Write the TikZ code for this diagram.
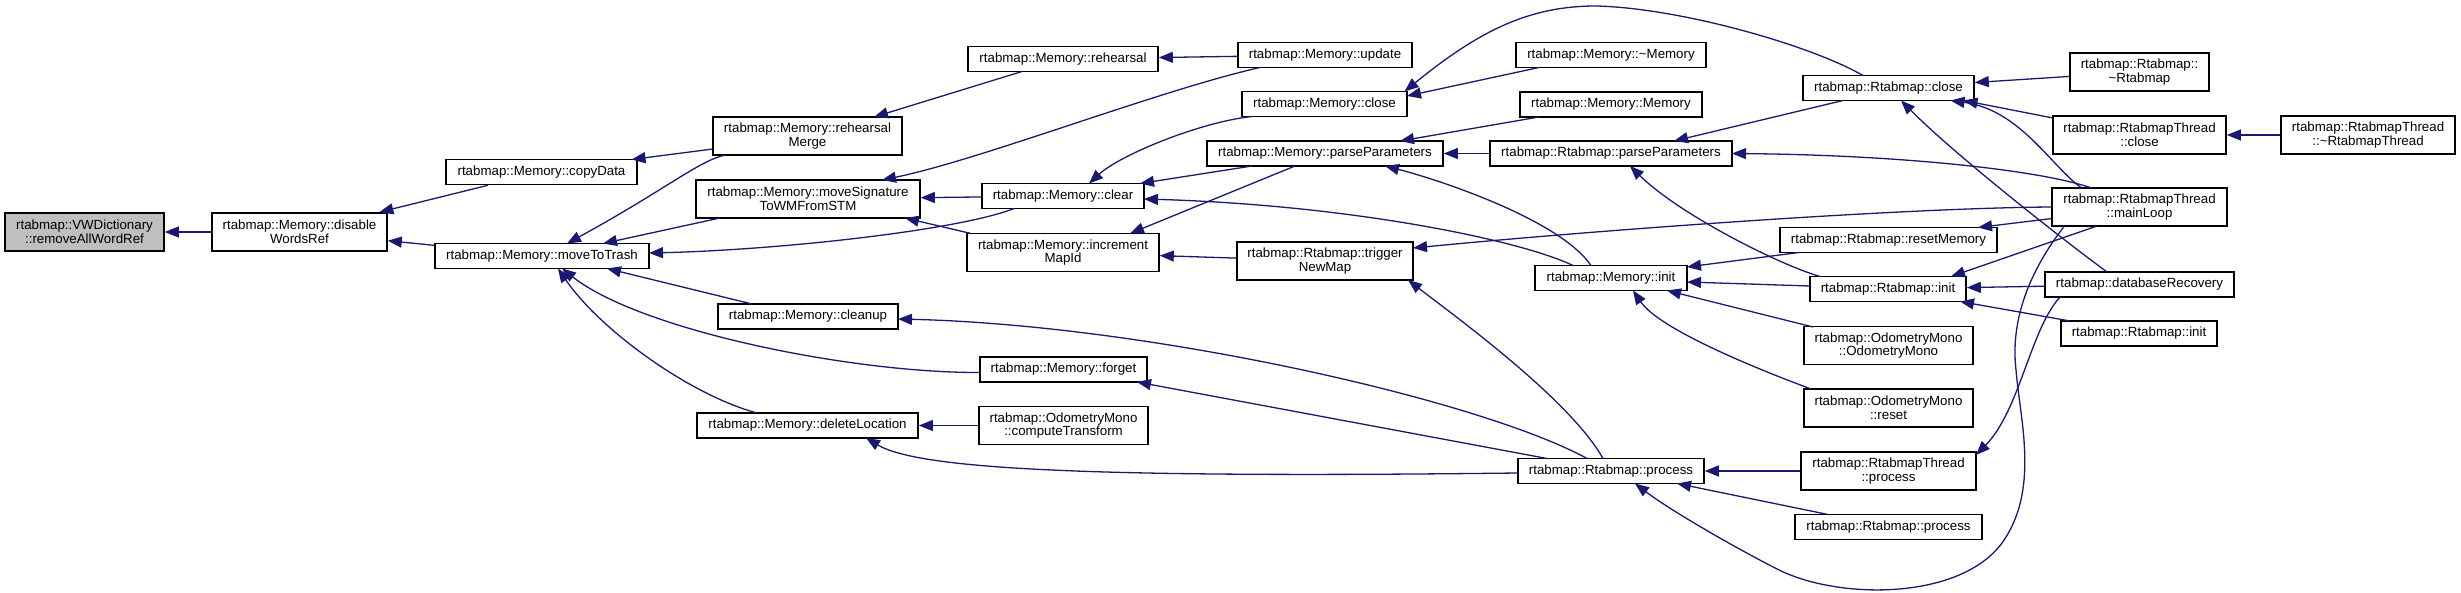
\documentclass[tikz,border=0pt]{standalone}
\usepackage{fontspec}
\setmainfont{Liberation Sans}
\usetikzlibrary{calc}
\usetikzlibrary{arrows.meta}
\definecolor{edgeblue}{RGB}{25,25,112}
\definecolor{nodegrey}{RGB}{191,191,191}
\tikzset{
    fn/.style={
        draw=black,
        line width=1.6pt,
        fill=white,
        inner sep=1pt,
        align=center,
        font=\fontsize{13.3}{13.6}\selectfont,
        minimum height=25pt
    },
    % boxes with two lines of text
    fntwo/.style={fn, minimum height=38pt},
    callarrow/.style={
        line width=1.3pt,
        edgeblue,
        ->,
        >={Triangle[length=14pt, width=11pt]}
    }
}
\begin{document}
\begin{tikzpicture}[x=1pt,y=-1pt]
    \useasboundingbox (0,0) rectangle (2461,593);
    % column 0 to 2
    \node[fntwo, fill=nodegrey, minimum width=159pt] (vwd) at (84.5,232) {rtabmap::VWDictionary\\::removeAllWordRef};
    \node[fntwo, minimum width=175pt] (dwr) at (299.5,232) {rtabmap::Memory::disable\\WordsRef};
    \node[fn, minimum width=191pt] (cpd) at (541.5,172) {rtabmap::Memory::copyData};
    \node[fn, minimum width=214pt] (mtt) at (542,256) {rtabmap::Memory::moveToTrash};
    % column 3
    \node[fntwo, minimum width=189pt] (rhm) at (807.5,136) {rtabmap::Memory::rehearsal\\Merge};
    \node[fntwo, minimum width=224pt] (msw) at (808,199) {rtabmap::Memory::moveSignature\\ToWMFromSTM};
    \node[fn, minimum width=180pt] (cln) at (808,316.5) {rtabmap::Memory::cleanup};
    \node[fn, minimum width=221pt] (dlc) at (807.5,425.5) {rtabmap::Memory::deleteLocation};
    % column 4
    \node[fn, minimum width=190pt] (reh) at (1063,59) {rtabmap::Memory::rehearsal};
    \node[fn, minimum width=162pt] (clr) at (1063,196) {rtabmap::Memory::clear};
    \node[fntwo, minimum width=192pt] (imi) at (1063,252.5) {rtabmap::Memory::increment\\MapId};
    \node[fn, minimum width=167pt] (fgt) at (1063.5,369.5) {rtabmap::Memory::forget};
    \node[fntwo, minimum width=169pt] (cmt) at (1063.5,425.5) {rtabmap::OdometryMono\\::computeTransform};
    % column 5
    \node[fn, minimum width=174pt] (upd) at (1325,55) {rtabmap::Memory::update};
    \node[fn, minimum width=165pt] (mcl) at (1324.5,104) {rtabmap::Memory::close};
    \node[fn, minimum width=236pt] (mpp) at (1325,153.5) {rtabmap::Memory::parseParameters};
    \node[fntwo, minimum width=176pt] (tnm) at (1325,261) {rtabmap::Rtabmap::trigger\\NewMap};
    % column 6
    \node[fn, minimum width=190pt] (mdm) at (1611,55) {rtabmap::Memory::\textasciitilde Memory};
    \node[fn, minimum width=182pt] (mmm) at (1611,104.5) {rtabmap::Memory::Memory};
    \node[fn, minimum width=242pt] (rpp) at (1611,153.5) {rtabmap::Rtabmap::parseParameters};
    \node[fn, minimum width=152pt] (min) at (1611,278) {rtabmap::Memory::init};
    \node[fn, minimum width=186pt] (rpr) at (1611,471) {rtabmap::Rtabmap::process};
    % column 7
    \node[fn, minimum width=171pt] (rcl) at (1888.5,88) {rtabmap::Rtabmap::close};
    \node[fn, minimum width=217pt] (rsm) at (1888.5,240) {rtabmap::Rtabmap::resetMemory};
    \node[fn, minimum width=156pt] (rin) at (1888,289) {rtabmap::Rtabmap::init};
    \node[fntwo, minimum width=169pt] (omo) at (1888.5,345.5) {rtabmap::OdometryMono\\::OdometryMono};
    \node[fntwo, minimum width=169pt] (ors) at (1888.5,408) {rtabmap::OdometryMono\\::reset};
    \node[fntwo, minimum width=175pt] (tpr) at (1888.5,471) {rtabmap::RtabmapThread\\::process};
    \node[fn, minimum width=187pt] (rp2) at (1888.5,527) {rtabmap::Rtabmap::process};
    % column 8 and 9
    \node[fntwo, minimum width=139pt] (rdt) at (2139.5,72) {rtabmap::Rtabmap::\\\textasciitilde Rtabmap};
    \node[fntwo, minimum width=173pt] (tcl) at (2139.5,135) {rtabmap::RtabmapThread\\::close};
    \node[fntwo, minimum width=175pt] (mlp) at (2139.5,207) {rtabmap::RtabmapThread\\::mainLoop};
    \node[fn, minimum width=189pt] (dbr) at (2139.5,284.5) {rtabmap::databaseRecovery};
    \node[fn, minimum width=156pt] (ri2) at (2139,333.5) {rtabmap::Rtabmap::init};
    \node[fntwo, minimum width=174pt] (tdt) at (2368,135) {rtabmap::RtabmapThread\\::\textasciitilde RtabmapThread};

    % calls into the left part
    \draw[callarrow] (dwr) -- (vwd);
    \draw[callarrow] (cpd) -- (dwr);
    \draw[callarrow] (mtt) -- (dwr);
    \draw[callarrow] ($(rhm)+(-82,19)$) .. controls (700,160) and (665,190) .. ($(mtt)+(25,-12.5)$);
    \draw[callarrow] ($(rhm)+(-94.5,13)$) -- ($(cpd)+(90,-12.5)$);
    \draw[callarrow] ($(msw)+(-88,19)$) -- ($(mtt)+(61,-12.5)$);
    \draw[callarrow] ($(clr)+(-49,12.5)$) .. controls (960,230) and (780,250) .. ($(mtt)+(107,-3)$);
    \draw[callarrow] ($(cln)+(-56,-12.5)$) -- ($(mtt)+(65,12.5)$);
    \draw[callarrow] ($(fgt)+(-83.5,3)$) .. controls (850,373) and (640,330) .. ($(mtt)+(20,12.5)$);
    \draw[callarrow] ($(dlc)+(-50.5,-12.5)$) .. controls (690,395) and (600,330) .. ($(mtt)+(16,12.5)$);
    \draw[callarrow] ($(reh)+(-41,12.5)$) -- ($(rhm)+(66.5,-19)$);
    \draw[callarrow] (upd) -- (reh);
    \draw[callarrow] ($(upd)+(-65,12.5)$) .. controls (1160,90) and (980,160) .. ($(msw)+(74,-19)$);
    \draw[callarrow] ($(mcl)+(-72.5,12.5)$) .. controls (1200,122) and (1120,155) .. ($(clr)+(26,-12.5)$);
    \draw[callarrow] (clr) -- (msw);
    \draw[callarrow] ($(imi)+(-92,-19)$) -- ($(msw)+(97,19)$);
    \draw[callarrow] ($(mpp)+(-73,12.5)$) -- ($(clr)+(77,-12.5)$);
    \draw[callarrow] ($(mpp)+(-30,12.5)$) -- ($(imi)+(67,-19)$);
    \draw[callarrow] (tnm) -- (imi);
    \draw[callarrow] (cmt) -- (dlc);

    % calls into the middle part
    \draw[callarrow] ($(rcl)+(-25.5,-12.5)$) .. controls (1810,45) and (1680,8) .. (1596,6)
        .. controls (1530,6) and (1480,30) .. ($(mcl)+(80,-12.5)$);
    \draw[callarrow] ($(mdm)+(-72,12.5)$) -- ($(mcl)+(82.5,-8)$);
    \draw[callarrow] ($(mmm)+(-72,12.5)$) -- ($(mpp)+(75,-12.5)$);
    \draw[callarrow] (rpp) -- (mpp);
    \draw[callarrow] ($(min)+(-20,-12.5)$) .. controls (1560,220) and (1440,180) .. ($(mpp)+(60,12.5)$);
    \draw[callarrow] ($(min)+(-38,-12.5)$) .. controls (1520,240) and (1350,205) .. ($(clr)+(81,3)$);
    \draw[callarrow] ($(rsm)+(-89.5,12.5)$) -- ($(min)+(76,-11)$);
    \draw[callarrow] ($(rin)+(-78,-3)$) -- ($(min)+(76,4)$);
    \draw[callarrow] ($(omo)+(-75.5,-18.5)$) -- ($(min)+(56,12.5)$);
    \draw[callarrow] ($(ors)+(-77.5,-19)$) .. controls (1760,370) and (1660,330) .. ($(min)+(22,12.5)$);
    \draw[callarrow] ($(rin)+(-68,-12.5)$) .. controls (1780,265) and (1680,215) .. ($(rpp)+(19,12.5)$);
    \draw[callarrow] ($(rcl)+(-45.5,12.5)$) -- ($(rpp)+(63,-12.5)$);
    \draw[callarrow] ($(mlp)+(-48,-19)$) .. controls (2040,170) and (1900,155) .. ($(rpp)+(121,0)$);
    \draw[callarrow] ($(mlp)+(-87.5,0)$) .. controls (1900,208) and (1600,230) .. ($(tnm)+(88,-13)$);
    \draw[callarrow] ($(rpr)+(-8,-12.5)$) .. controls (1570,400) and (1460,320) .. ($(tnm)+(83,19)$);
    \draw[callarrow] ($(rpr)+(-24,-12.5)$) .. controls (1480,400) and (1150,325) .. ($(cln)+(90,2.5)$);
    \draw[callarrow] ($(rpr)+(-64,-12.5)$) -- ($(fgt)+(73.5,12.5)$);
    \draw[callarrow] ($(rpr)+(-93,2)$) .. controls (1100,478) and (920,470) .. ($(dlc)+(58.5,12.5)$);

    % calls into the right part
    \draw[callarrow] (rdt) -- (rcl);
    \draw[callarrow] ($(tcl)+(-86.5,-17)$) -- ($(rcl)+(75,12.5)$);
    \draw[callarrow] (tdt) -- (tcl);
    \draw[callarrow] ($(mlp)+(-58,-19)$) .. controls (2050,165) and (2020,110) .. ($(rcl)+(62,12.5)$);
    \draw[callarrow] ($(dbr)+(-32.5,-12.5)$) .. controls (2050,230) and (1950,150) .. ($(rcl)+(12.5,12.5)$);
    \draw[callarrow] ($(mlp)+(-87.5,11.5)$) -- ($(rsm)+(89.5,-12.5)$);
    \draw[callarrow] ($(mlp)+(-42.5,19)$) -- ($(rin)+(63,-12.5)$);
    \draw[callarrow] (dbr) -- (rin);
    \draw[callarrow] ($(ri2)+(-69,-12.5)$) -- ($(rin)+(72,12.5)$);
    \draw[callarrow] (tpr) -- (rpr);
    \draw[callarrow] ($(rp2)+(-60.5,-12.5)$) -- ($(rpr)+(66,12.5)$);
    \draw[callarrow] ($(dbr)+(-79.5,12.5)$) .. controls (2030,330) and (2020,410) .. ($(tpr)+(87.5,-16)$);
    \draw[callarrow] ($(mlp)+(-75,19)$) .. controls (2030,270) and (2010,320) .. (2016,370)
        .. controls (2020,420) and (2040,490) .. (2002,543)
        .. controls (1960,600) and (1840,600) .. (1779,570)
        .. controls (1730,545) and (1670,510) .. ($(rpr)+(24,12.5)$);
\end{tikzpicture}
\end{document}
